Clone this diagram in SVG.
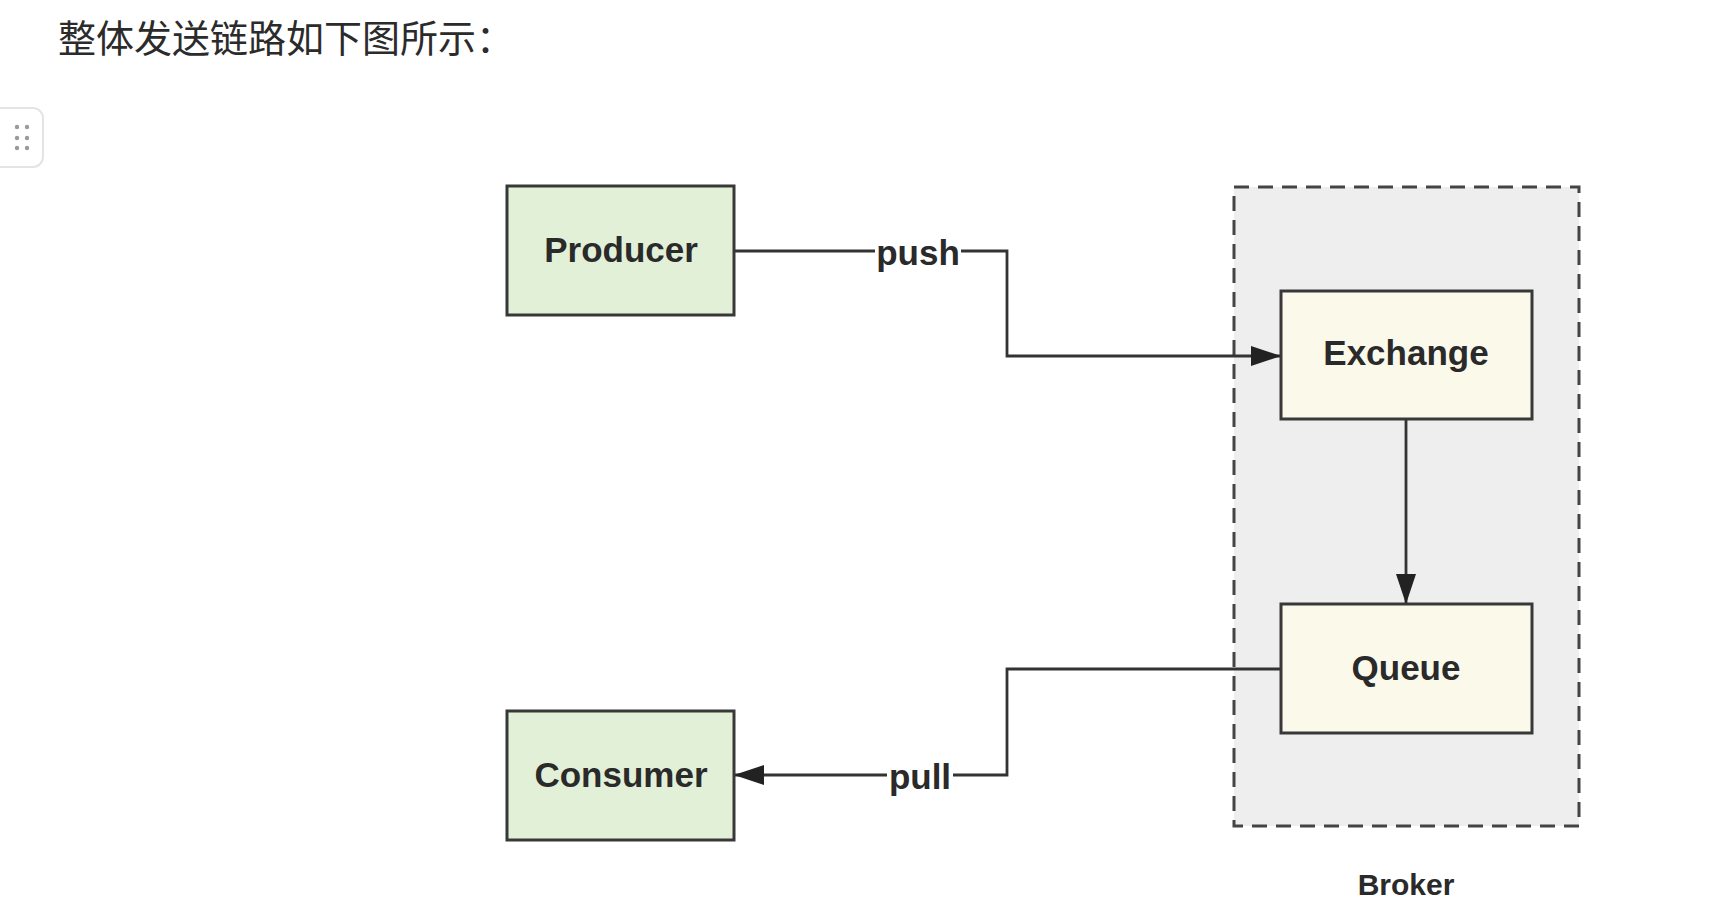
<svg xmlns="http://www.w3.org/2000/svg" width="1728" height="910" viewBox="0 0 1728 910">
<style>
.node{stroke:#383838;stroke-width:3}
.green{fill:#e3f0d8}
.yellow{fill:#fbf9ea}
.lbl{font-family:"Liberation Sans",Arial,sans-serif;font-weight:bold;font-size:35px;fill:#2a2a2a;text-anchor:middle}
.conn{fill:none;stroke:#333;stroke-width:2.8}
.dot{fill:#9a9a9a}
</style>
<defs>
<marker id="arr" viewBox="0 0 30 20" refX="30" refY="10" markerWidth="30" markerHeight="20" markerUnits="userSpaceOnUse" orient="auto">
<path d="M0,0 L30,10 L0,20 z" fill="#222"/>
</marker>
</defs>
<rect width="1728" height="910" fill="#ffffff"/>
<text x="58" y="52" font-family="'Noto Sans CJK SC','Noto Sans',sans-serif" font-size="38" fill="#2b2b2b">整体发送链路如下图所示：</text>
<g id="handle">
<rect x="-20" y="108" width="63" height="59" rx="10" fill="#ffffff" stroke="#e4e4e4" stroke-width="2"/>
<circle class="dot" cx="17" cy="127" r="2.2"/><circle class="dot" cx="27" cy="127" r="2.2"/>
<circle class="dot" cx="17" cy="138" r="2.2"/><circle class="dot" cx="27" cy="138" r="2.2"/>
<circle class="dot" cx="17" cy="148" r="2.2"/><circle class="dot" cx="27" cy="148" r="2.2"/>
</g>
<g id="broker">
<rect x="1234" y="187" width="345" height="639" fill="#eeeeee" stroke="#444" stroke-width="3" stroke-dasharray="15 9"/>
<text class="lbl" x="1406" y="895" style="font-size:30px">Broker</text>
</g>
<g id="connectors">
<path class="conn" d="M734,251 H875"/>
<path class="conn" d="M961,251 H1007 V356 H1281" marker-end="url(#arr)"/>
<text class="lbl" x="918" y="265">push</text>
<path class="conn" d="M1406,419 V604" marker-end="url(#arr)"/>
<path class="conn" d="M1281,669 H1007 V775 H953"/>
<path class="conn" d="M887,775 H734" marker-end="url(#arr)"/>
<text class="lbl" x="920" y="789">pull</text>
</g>
<g id="producer">
<rect class="node green" x="507" y="186" width="227" height="129"/>
<text class="lbl" x="621" y="262">Producer</text>
</g>
<g id="consumer">
<rect class="node green" x="507" y="711" width="227" height="129"/>
<text class="lbl" x="621" y="787">Consumer</text>
</g>
<g id="exchange">
<rect class="node yellow" x="1281" y="291" width="251" height="128"/>
<text class="lbl" x="1406" y="365">Exchange</text>
</g>
<g id="queue">
<rect class="node yellow" x="1281" y="604" width="251" height="129"/>
<text class="lbl" x="1406" y="680">Queue</text>
</g>
</svg>
